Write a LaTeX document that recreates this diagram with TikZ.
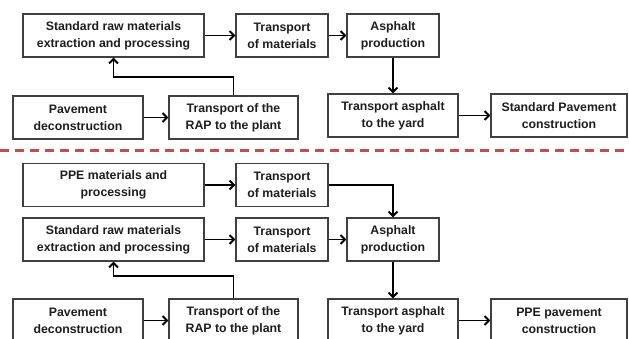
\documentclass[tikz,border=0pt]{standalone}
\usepackage{fontspec}
\setmainfont{Liberation Sans}
\usepackage{tikz}
\usetikzlibrary{arrows.meta,positioning,calc}
\definecolor{frame}{HTML}{404040}
\definecolor{ink}{HTML}{1E1E1E}
\definecolor{cut}{HTML}{C0504D}
\tikzset{
  stagebox/.style={draw=frame,line width=1.3pt,fill=white,text=ink,align=center,
                   minimum height=43pt,inner sep=0pt,
                   font=\fontsize{12.3}{17}\selectfont\bfseries},
  flow/.style={draw=black,line width=1.9pt,-{Straight Barb[length=4.5pt,width=9pt,line width=1.9pt]}},
}

\begin{document}
\begin{tikzpicture}[x=1pt,y=-1pt]
    \useasboundingbox (0,0) rectangle (629,338);
    \clip (0,0) rectangle (629,338);
    % standard pavement chain
    \node[stagebox,minimum width=181pt] (raw) at (113.5,35.5) {Standard raw materials\\extraction and processing};
    \node[stagebox,minimum width=92pt] (trans) at (282,35.5) {Transport\\of materials};
    \node[stagebox,minimum width=92pt] (asph) at (393,35.5) {Asphalt\\production};
    \node[stagebox,minimum width=130pt] (pave) at (78,117.5) {Pavement\\deconstruction};
    \node[stagebox,minimum width=129pt] (rap) at (233.5,117.5) {Transport of the\\RAP to the plant};
    \node[stagebox,minimum width=130pt] (yard) at (393,115.5) {Transport asphalt\\to the yard};
    \node[stagebox,minimum width=136pt] (std) at (559,115.5) {Standard Pavement\\construction};
    \draw[flow] (raw) -- (trans);
    \draw[flow] (trans) -- (asph);
    \draw[flow] (asph) -- (yard);
    \draw[flow] (yard) -- (std);
    \draw[flow] (pave) -- (rap);
    \draw[flow] (rap.north) -- ++(0,-18) -| (raw.south);
    % split between the two cases
    \draw[cut,line width=3pt,dash pattern=on 9pt off 6pt] (0,150) -- (629,150);
    % PPE pavement chain
    \node[stagebox,minimum width=181pt] (ppe) at (113.5,185) {PPE materials and\\processing};
    \node[stagebox,minimum width=92pt] (ppetrans) at (282,185) {Transport\\of materials};
    \node[stagebox,minimum width=181pt] (rawb) at (113.5,239.5) {Standard raw materials\\extraction and processing};
    \node[stagebox,minimum width=92pt] (transb) at (282,239.5) {Transport\\of materials};
    \node[stagebox,minimum width=92pt] (asphb) at (393,239.5) {Asphalt\\production};
    \node[stagebox,minimum width=130pt] (paveb) at (78,320.5) {Pavement\\deconstruction};
    \node[stagebox,minimum width=129pt] (rapb) at (233.5,320.5) {Transport of the\\RAP to the plant};
    \node[stagebox,minimum width=130pt] (yardb) at (393,320.5) {Transport asphalt\\to the yard};
    \node[stagebox,minimum width=136pt] (ppeend) at (559,320.5) {PPE pavement\\construction};
    \draw[flow] (ppe) -- (ppetrans);
    \draw[flow] (ppetrans.east) -| (asphb.north);
    \draw[flow] (rawb) -- (transb);
    \draw[flow] (transb) -- (asphb);
    \draw[flow] (asphb) -- (yardb);
    \draw[flow] (yardb) -- (ppeend);
    \draw[flow] (paveb) -- (rapb);
    \draw[flow] (rapb.north) -- ++(0,-22) -| (rawb.south);
\end{tikzpicture}
\end{document}
